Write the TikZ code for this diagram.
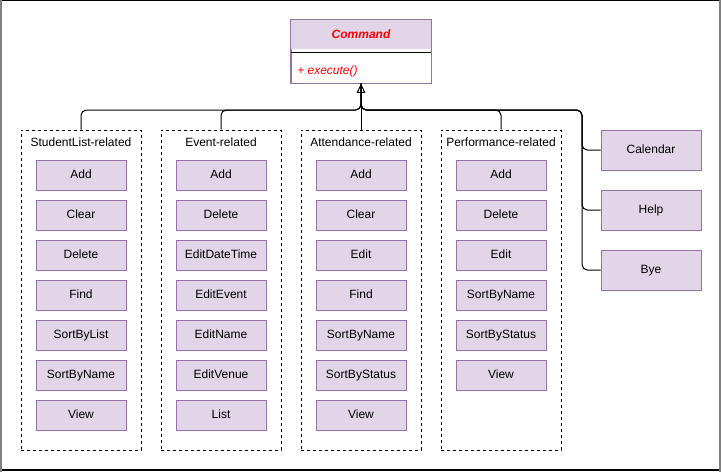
\documentclass[tikz,border=0pt]{standalone}
\usepackage{fontspec}
\setmainfont{Liberation Sans}
\usetikzlibrary{arrows.meta}

\definecolor{umlfill}{HTML}{E1D5E7}
\definecolor{umlline}{HTML}{9673A6}

\begin{document}
\begin{tikzpicture}[x=0.75pt, y=-0.75pt, >={Triangle[open, length=7pt, width=6.5pt]},
    font=\fontsize{9}{11}\selectfont,
    cmdbox/.style={draw=umlline, fill=umlfill, line width=0.75pt, minimum width=67.5pt, minimum height=22.5pt, inner sep=0pt, text height=6.6pt, text depth=1.9pt},
    sidebox/.style={cmdbox, minimum width=75pt, minimum height=30pt},
    groupbox/.style={draw, dashed, dash pattern=on 2.25pt off 2.25pt, line width=0.75pt, minimum width=90pt, minimum height=240pt, inner sep=0pt},
    grouptitle/.style={text height=6.6pt, text depth=1.9pt},
    link/.style={line width=0.75pt, rounded corners=4pt}]

    % 1. 外框
    \useasboundingbox (0,0) rectangle (721,472);
    \draw[black, line width=0.75pt] (0,0.5) -- (721,0.5);
    \draw[black, line width=1.5pt] (0,470) -- (721,470);
    \draw[gray, line width=1.5pt] (1,0) -- (1,472);
    \draw[gray, line width=1.5pt] (720,0) -- (720,472);

    % 2. 抽象类 Command
    \node[draw=umlline, line width=0.75pt, minimum width=105pt, minimum height=47.25pt, inner sep=0pt] (command) at (361,51.5) {};
    \fill[umlfill] ([shift={(0.5,0.5)}]command.north west) rectangle (430.5,49);
    \draw[line width=0.75pt] (291,52) -- (431,52);
    \draw[umlline, line width=0.75pt] (command.north west) rectangle (command.south east);
    \node[red, font=\fontsize{9}{11}\selectfont\bfseries\itshape] (cmdname) at (361,34) {Command};
    \node[red, font=\fontsize{9}{11}\selectfont\itshape, anchor=west, inner sep=0pt] (execute) at (297,71) {+ execute()};

    % 3. 分组虚线框
    \node[groupbox] (slist) at (81,290) {};
    \node[groupbox] (event) at (221,290) {};
    \node[groupbox] (attend) at (361,290) {};
    \node[groupbox] (perform) at (501,290) {};
    \node[grouptitle] (slisttitle) at (81,143) {StudentList-related};
    \node[grouptitle] (eventtitle) at (221,143) {Event-related};
    \node[grouptitle] (attendtitle) at (361,143) {Attendance-related};
    \node[grouptitle] (performtitle) at (501,143) {Performance-related};

    % 4. StudentList-related
    \node[cmdbox] (sladd) at (81,175) {Add};
    \node[cmdbox] (slclear) at (81,215) {Clear};
    \node[cmdbox] (sldelete) at (81,255) {Delete};
    \node[cmdbox] (slfind) at (81,295) {Find};
    \node[cmdbox] (slsortlist) at (81,335) {SortByList};
    \node[cmdbox] (slsortname) at (81,375) {SortByName};
    \node[cmdbox] (slview) at (81,415) {View};

    % 5. Event-related
    \node[cmdbox] (evadd) at (221,175) {Add};
    \node[cmdbox] (evdelete) at (221,215) {Delete};
    \node[cmdbox] (evdatetime) at (221,255) {EditDateTime};
    \node[cmdbox] (evevent) at (221,295) {EditEvent};
    \node[cmdbox] (evname) at (221,335) {EditName};
    \node[cmdbox] (evvenue) at (221,375) {EditVenue};
    \node[cmdbox] (evlist) at (221,415) {List};

    % 6. Attendance-related
    \node[cmdbox] (atadd) at (361,175) {Add};
    \node[cmdbox] (atclear) at (361,215) {Clear};
    \node[cmdbox] (atedit) at (361,255) {Edit};
    \node[cmdbox] (atfind) at (361,295) {Find};
    \node[cmdbox] (atsortname) at (361,335) {SortByName};
    \node[cmdbox] (atsortstatus) at (361,375) {SortByStatus};
    \node[cmdbox] (atview) at (361,415) {View};

    % 7. Performance-related
    \node[cmdbox] (pfadd) at (501,175) {Add};
    \node[cmdbox] (pfdelete) at (501,215) {Delete};
    \node[cmdbox] (pfedit) at (501,255) {Edit};
    \node[cmdbox] (pfsortname) at (501,295) {SortByName};
    \node[cmdbox] (pfsortstatus) at (501,335) {SortByStatus};
    \node[cmdbox] (pfview) at (501,375) {View};

    % 8. 独立命令
    \node[sidebox] (calendar) at (651,150) {Calendar};
    \node[sidebox] (help) at (651,210) {Help};
    \node[sidebox] (bye) at (651,270) {Bye};

    % 9. 继承连线
    \coordinate (bus) at (361,110);
    \coordinate (rbus) at (582,110);
    \draw[link] (slist.north) |- (bus) -- (command.south);
    \draw[link] (event.north) |- (bus) -- (command.south);
    \draw[link] (perform.north) |- (bus) -- (command.south);
    \draw[link] (calendar.west) -| (rbus) -- (bus) -- (command.south);
    \draw[link] (help.west) -| (rbus) -- (bus) -- (command.south);
    \draw[link] (bye.west) -| (rbus) -- (bus) -- (command.south);
    \draw[link, ->] (attend.north) -- (command.south);

\end{tikzpicture}
\end{document}
